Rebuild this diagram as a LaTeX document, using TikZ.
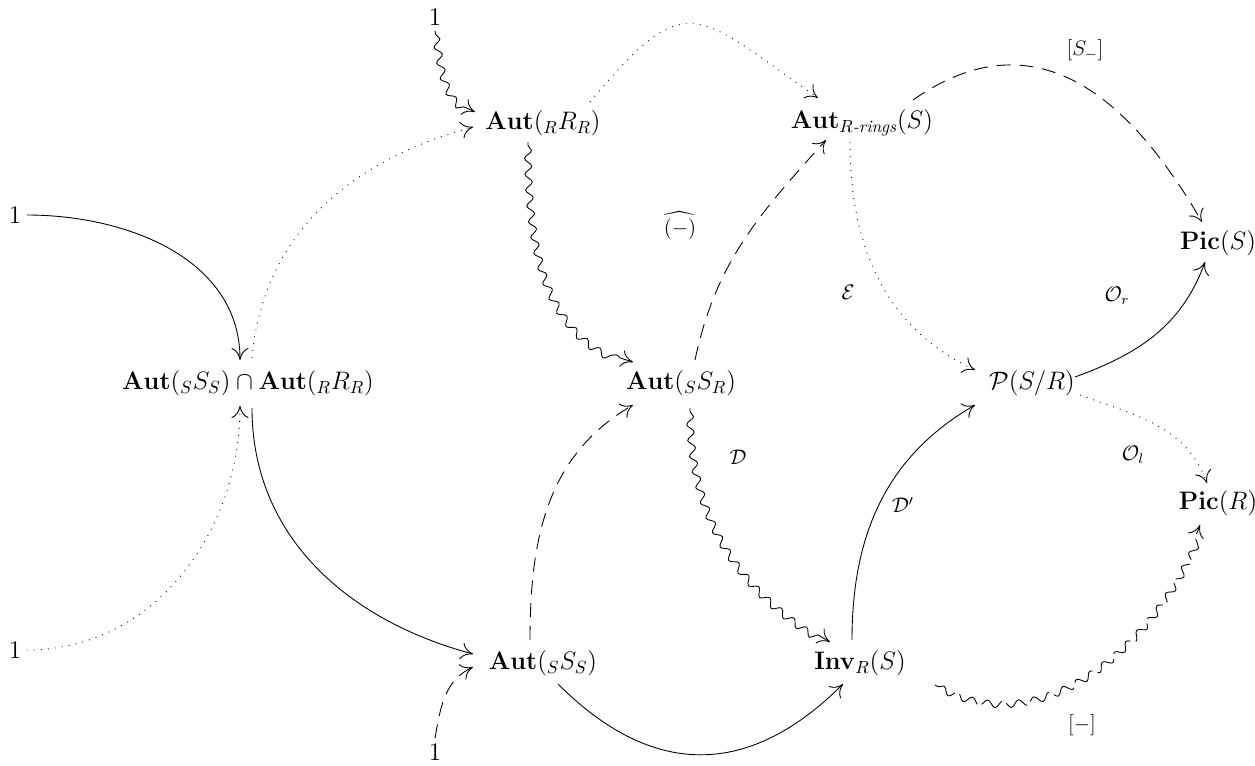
\documentclass[tikz,border=0pt]{standalone}
\usepackage{amsmath}
\usetikzlibrary{arrows.meta,decorations.pathmorphing,calc}
\begin{document}
\begin{tikzpicture}[x=0.02cm,y=0.02cm,
  every node/.style={font=\fontsize{14}{17}\selectfont},
  obj/.style={inner sep=3pt},
  lab/.style={font=\fontsize{12}{14}\selectfont, inner sep=1pt},
  arr/.style={-{Computer Modern Rightarrow[length=2.4mm,width=3.4mm]}, line width=0.5pt},
  solidarr/.style={arr},
  dotarr/.style={arr, dash pattern=on 0.5pt off 3.5pt},
  dasharr/.style={arr, dash pattern=on 8pt off 5pt},
  wavearr/.style={arr, decorate, decoration={snake, amplitude=2pt, segment length=9pt, pre length=2pt, post length=6pt}},
  wavedasharr/.style={wavearr, dash pattern=on 16pt off 3pt},
]
\useasboundingbox (0,0) rectangle (1255,-765);

% objects
\node[obj] (o1) at (15,-215) {$1$};
\node[obj] (o2) at (15,-650) {$1$};
\node[obj] (o3) at (435,-17) {$1$};
\node[obj] (o4) at (435,-752) {$1$};
\node[obj] (n1) at (248,-383) {$\mathbf{Aut}({}_SS_S)\cap\mathbf{Aut}({}_RR_R)$};
\node[obj] (n2) at (543,-123) {$\mathbf{Aut}({}_RR_R)$};
\node[obj] (n3) at (681,-383) {$\mathbf{Aut}({}_SS_R)$};
\node[obj] (n4) at (543,-663) {$\mathbf{Aut}({}_SS_S)$};
\node[obj] (n5) at (862,-123) {$\mathbf{Aut}_{R\textit{-rings}}(S)$};
\node[obj] (n6) at (1032,-383) {$\mathcal{P}(S/R)$};
\node[obj] (n7) at (860,-663) {$\mathbf{Inv}_R(S)$};
\node[obj] (n8) at (1218,-243) {$\mathbf{Pic}(S)$};
\node[obj] (n9) at (1218,-503) {$\mathbf{Pic}(R)$};

% connectors
\draw[solidarr] (o1.east) to[out=0,in=90] ($(n1)+(-8,23)$);
\draw[dotarr] (o2.east) to[out=0,in=-90] ($(n1)+(-8,-23)$);
\draw[dotarr] ($(n1)+(4,25)$) to[out=85,in=195] ($(n2)+(-70,-4)$);
\draw[solidarr] ($(n1)+(4,-25)$) to[out=-90,in=165] ($(n4)+(-70,9)$);
\draw[wavearr] (o3.south) to[out=-80,in=160] ($(n2)+(-68,11)$);
\draw[dotarr] ($(n2)+(47,21)$) to[out=50,in=145,looseness=1.7] ($(n5)+(-44,25)$);
\draw[wavearr] ($(n2)+(-15,-19)$) to[out=-90,in=165] ($(n3)+(-48,21)$);
\draw[dasharr] (o4.north) to[out=80,in=205] ($(n4)+(-70,-4)$);
\draw[dasharr] ($(n4)+(-13,23)$) to[out=90,in=210] ($(n3)+(-48,-22)$);
\draw[dasharr] ($(n3)+(14,23)$) to[out=78,in=228] ($(n5)+(-36,-17)$);
\draw[wavearr] ($(n3)+(9,-25)$) to[out=-90,in=150] ($(n7)+(-30,21)$);
\draw[solidarr] ($(n4)+(15,-21)$) to[out=-45,in=225,looseness=1.2] ($(n7)+(-17,-21)$);
\draw[solidarr] ($(n7)+(-8,23)$) to[out=90,in=210] ($(n6)+(-57,-22)$);
\draw[dotarr] ($(n5)+(-12,-19)$) to[out=-90,in=155] ($(n6)+(-57,13)$);
\draw[dasharr] ($(n5)+(51,23)$) to[out=35,in=120,looseness=1.2] ($(n8)+(-16,21)$);
\draw[solidarr] ($(n6)+(43,6)$) to[out=20,in=250] ($(n8)+(-13,-19)$);
\draw[dotarr] ($(n6)+(48,-12)$) to[out=-20,in=110] ($(n9)+(-11,20)$);
\draw[wavedasharr] ($(n7)+(75,-22)$) to[out=-30,in=250] ($(n9)+(-18,-22)$);

% labels
\node[lab] (l1) at (680,-226) {$\widehat{(-)}$};
\node[lab] (l2) at (738,-457) {$\mathcal{D}$};
\node[lab] (l3) at (903,-505) {$\mathcal{D}'$};
\node[lab] (l4) at (848,-292) {$\mathcal{E}$};
\node[lab] (l5) at (1085,-50) {$[S_{-}]$};
\node[lab] (l6) at (1117,-296) {$\mathcal{O}_r$};
\node[lab] (l7) at (1133,-455) {$\mathcal{O}_l$};
\node[lab] (l8) at (1082,-725) {$[-]$};
\end{tikzpicture}
\end{document}
